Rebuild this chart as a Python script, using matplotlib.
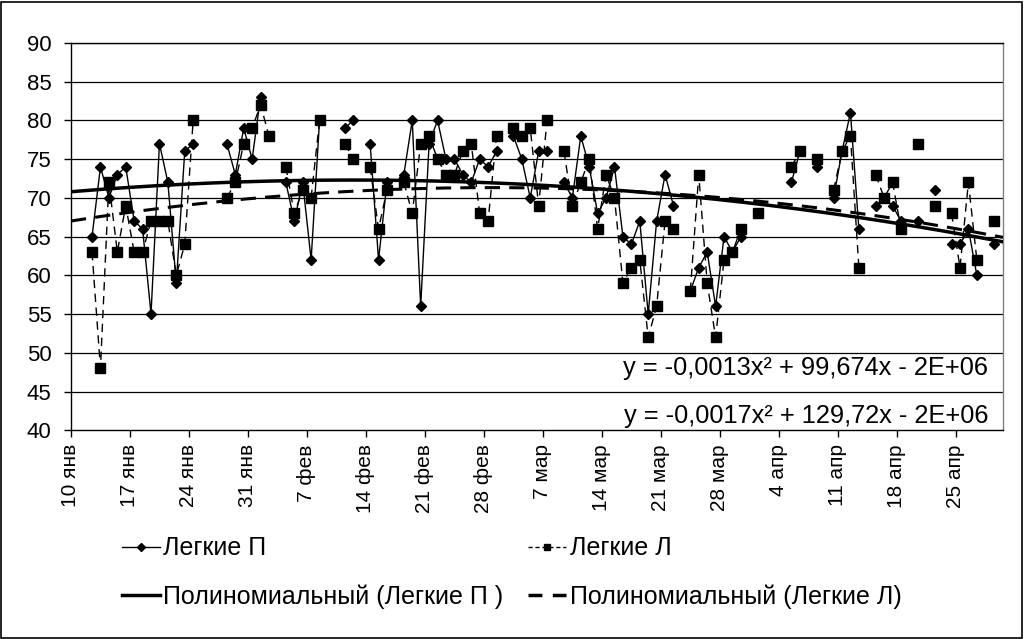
import numpy as np
import matplotlib
matplotlib.use('Agg')
import matplotlib.pyplot as plt
import datetime as dt
from matplotlib.lines import Line2D
from matplotlib.patches import Rectangle

plt.rcParams['font.family'] = ['Liberation Sans', 'DejaVu Sans']

# ---- data -------------------------------------------------------------
start_date = "2005-01-10"
dates = ["01-12", "01-13", "01-14", "01-15", "01-16", "01-17", "01-18", "01-19",
         "01-20", "01-21", "01-22", "01-23", "01-24",
         "01-28", "01-29", "01-30", "01-31", "02-01", "02-02",
         "02-04", "02-05", "02-06", "02-07", "02-08",
         "02-11", "02-12", "02-14", "02-15", "02-16",
         "02-18", "02-19", "02-20", "02-21", "02-22", "02-23", "02-24", "02-25",
         "02-26", "02-27", "02-28", "03-01",
         "03-03", "03-04", "03-05", "03-06", "03-07",
         "03-09", "03-10", "03-11", "03-12", "03-13", "03-14", "03-15", "03-16",
         "03-17", "03-18", "03-19", "03-20", "03-21", "03-22", "03-24",
         "03-25", "03-26", "03-27", "03-28", "03-29", "03-30", "04-01",
         "04-05", "04-06", "04-08", "04-10", "04-11", "04-12", "04-13",
         "04-15", "04-16", "04-17", "04-18", "04-20", "04-22",
         "04-24", "04-25", "04-26", "04-27", "04-29"]
light_p = [65, 74, 70, 73, 74, 67, 66, 55, 77, 72, 59, 76, 77,
           77, 73, 79, 75, 83, np.nan,
           72, 67, 72, 62, 80,
           79, 80, 77, 62, 72,
           73, 80, 56, 77, 80, 75, 75, 73,
           72, 75, 74, 76,
           78, 75, 70, 76, 76,
           72, 70, 78, 74, 68, 70, 74, 65,
           64, 67, 55, 67, 73, 69, 58,
           61, 63, 56, 65, 63, 65, np.nan,
           72, 76, 74, 70, 76, 81, 66,
           69, 70, 69, 67, 67, 71,
           64, 64, 66, 60, 64]
light_l = [63, 48, 72, 63, 69, 63, 63, 67, 67, 67, 60, 64, 80,
           70, 72, 77, 79, 82, 78,
           74, 68, 71, 70, 80,
           77, 75, 74, 66, 71,
           72, 68, 77, 78, 75, 73, 73, 76,
           77, 68, 67, 78,
           79, 78, 79, 69, 80,
           76, 69, 72, 75, 66, 73, 70, 59,
           61, 62, 52, 56, 67, 66, 58,
           73, 59, 52, 62, 63, 66, 68,
           74, 76, 75, 71, 76, 78, 61,
           73, 70, 72, 66, 77, 69,
           68, 61, 72, 62, 67]
tick_labels = ["10 янв", "17 янв", "24 янв", "31 янв", "7 фев", "14 фев",
               "21 фев", "28 фев", "7 мар", "14 мар", "21 мар", "28 мар",
               "4 апр", "11 апр", "18 апр", "25 апр"]
eq_p = "y = -0,0013x² + 99,674x - 2E+06"
eq_l = "y = -0,0017x² + 129,72x - 2E+06"

# ---- prepare ----------------------------------------------------------
d0 = dt.date.fromisoformat(start_date)
days = np.array([(dt.date.fromisoformat("2005-" + s) - d0).days for s in dates], float)
yp = np.array(light_p, float)
yl = np.array(light_l, float)

# insert NaN breaks where dates are not consecutive
xs, ps, ls = [], [], []
for i in range(len(days)):
    if i > 0 and days[i] - days[i - 1] > 1:
        xs.append(np.nan); ps.append(np.nan); ls.append(np.nan)
    xs.append(days[i] + 0.5); ps.append(yp[i]); ls.append(yl[i])
xs = np.array(xs); ps = np.array(ps); ls = np.array(ls)

fig = plt.figure(figsize=(10.27, 6.39), dpi=100)
ax = fig.add_axes([0.0691, 0.3266, 0.9075, 0.6063])

xmin, xmax = 0, 110.6
ax.set_xlim(xmin, xmax)
ax.set_ylim(40, 90)

for yv in range(45, 91, 5):
    ax.axhline(yv, color='black', lw=0.9, zorder=1)

lp, = ax.plot(xs, ps, '-', color='black', lw=1.0, marker='D', ms=5.5,
              mfc='black', mec='black', zorder=4)
ll, = ax.plot(xs, ls, color='black', lw=1.0, ls=(0, (6, 4)), marker='s', ms=6.5,
              mfc='black', mec='black', zorder=3)

# polynomial (order 2) trendlines fitted from the data
xx = np.linspace(xmin, xmax, 300)
mp = ~np.isnan(yp)
cp = np.polyfit(days[mp] + 0.5, yp[mp], 2)
cl = np.polyfit(days + 0.5, yl, 2)
tp, = ax.plot(xx, np.polyval(cp, xx), color='black', lw=2.5, zorder=5)
tl, = ax.plot(xx, np.polyval(cl, xx), color='black', lw=2.2, ls=(0, (5, 3)), zorder=5)

ax.text(0.984, 48.1, eq_p, transform=ax.get_yaxis_transform(), ha='right',
        va='center', fontsize=18.3)
ax.text(0.984, 41.8, eq_l, transform=ax.get_yaxis_transform(), ha='right',
        va='center', fontsize=18.3)

ax.set_yticks(range(40, 91, 5))
ax.set_xticks(np.arange(0, 106, 7))
ax.set_xticklabels(tick_labels, rotation=90, fontsize=15)
ax.tick_params(axis='y', labelsize=16, length=5, width=1, direction='out', pad=9)
ax.tick_params(axis='x', length=5, width=1, direction='out', pad=5)

for s in ['left', 'bottom', 'top']:
    ax.spines[s].set_color('black')
    ax.spines[s].set_linewidth(1.0)
ax.spines['right'].set_color('#808080')
ax.spines['right'].set_linewidth(1.0)

handles = [
    Line2D([], [], color='black', lw=1.0, marker='D', ms=4),
    Line2D([], [], color='black', lw=2.5),
    Line2D([], [], color='black', lw=1.0, ls=(0, (3, 2)), marker='s', ms=4),
    Line2D([], [], color='black', lw=2.5, ls=(0, (4, 3))),
]
labels = ["Легкие П", "Полиномиальный (Легкие П )",
          "Легкие Л", "Полиномиальный (Легкие Л)"]
fig.legend(handles, labels, ncol=2, loc='center left',
           bbox_to_anchor=(0.1188, 0.104), frameon=False,
           prop={'size': 18},
           handlelength=1.5, handletextpad=0.15, columnspacing=1.0,
           labelspacing=0.95, borderpad=0, borderaxespad=0)

fig.patches.append(Rectangle((0.001, 0.002), 0.994, 0.995, transform=fig.transFigure,
                             fill=False, edgecolor='black', lw=1.2))

fig.savefig('out.png', dpi=100)
